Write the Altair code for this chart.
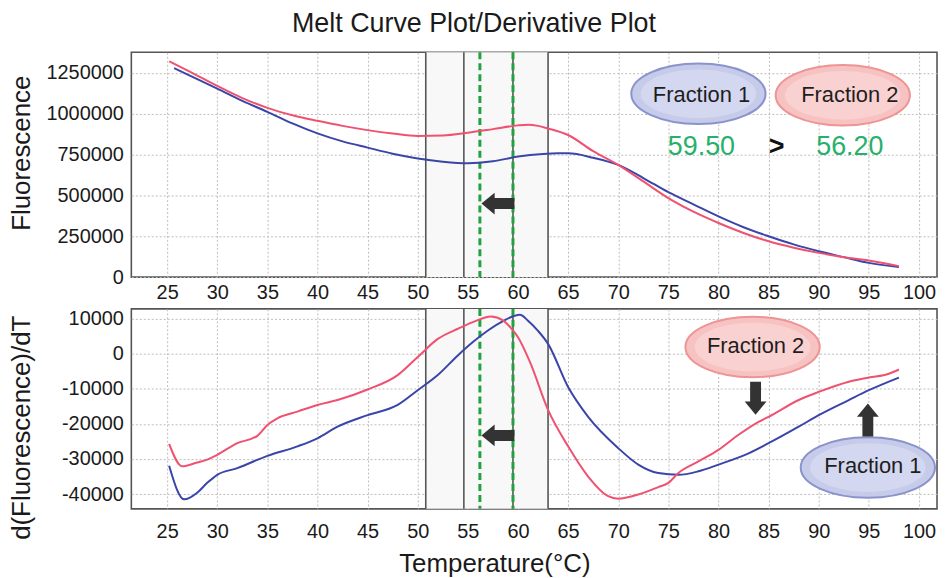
import altair as alt
import pandas as pd

FONT = "Liberation Sans"
BLUE = "#3a45a8"
RED = "#ef5270"
GREEN_TXT = "#27b06a"
GREEN_LINE = "#22a23e"
ARROW = "#333333"

series_names = ["Fraction 1", "Fraction 2"]

# ---- Melt curve (fluorescence) ----
t_f2_top = [25.2, 27, 30, 32.5, 35, 37.5, 40, 42.5, 45, 47.5, 50, 52.5, 55, 57.5, 60, 61, 62, 63,
            65, 67.5, 70, 72.5, 75, 77.5, 80, 82.5, 85, 87.5, 90, 92.5, 95, 98]
fl_f2 = [1320000, 1265000, 1169000, 1095000, 1035000, 990000, 956000, 925000, 899000, 878000,
         863000, 866000, 883000, 905000, 928000, 932000, 925000, 909000, 869000, 770000, 686000,
         585000, 483000, 400000, 331000, 270000, 219000, 180000, 148000, 122000, 102000, 67000]
t_f1_top = [25.7, 27, 30, 32.5, 35, 37.5, 40, 42.5, 45, 47.5, 50, 52.5, 55, 57.5, 60, 62.5, 64,
            65, 67.5, 70, 72.5, 75, 77.5, 80, 82.5, 85, 87.5, 90, 92.5, 95, 98]
fl_f1 = [1278000, 1240000, 1153000, 1078000, 1011000, 940000, 879000, 830000, 792000, 755000,
         726000, 706000, 696000, 708000, 737000, 753000, 757000, 757000, 730000, 686000, 606000,
         519000, 445000, 371000, 305000, 250000, 200000, 158000, 122000, 87000, 61000]

# ---- Derivative ----
t_f2_der = [25.2, 26.5, 28, 29, 30, 32, 34, 35, 36, 38, 40, 42, 45, 48, 50, 52, 54, 55.5, 57.3,
            58.5, 59.5, 60, 61.2, 63, 65, 67, 69, 70, 72, 74, 75, 76, 78, 80, 82, 84, 85, 88, 90,
            93, 95, 97, 98]
d_f2 = [-25700, -32100, -31000, -30200, -28800, -25500, -23400, -20300, -18400, -16500, -14600,
        -13200, -10200, -6100, -950, 4200, 7100, 9000, 10600, 9500, 6600, 4700, -2400, -16000,
        -26400, -35000, -40600, -41300, -40100, -38000, -36800, -34000, -30700, -27400, -23100,
        -19400, -18000, -13200, -10900, -8000, -6800, -5700, -4500]
t_f1_der = [25.2, 26.7, 28, 29, 30, 32, 35, 38, 40, 42, 45, 48, 50, 52, 54, 55.5, 57, 58.5, 60.2,
            61, 62, 63, 65, 67, 70, 72, 74, 76, 78, 80, 83, 85, 88, 90, 93, 95, 98]
d_f1 = [-31900, -41500, -39600, -36800, -34500, -32600, -29100, -26400, -24100, -20800, -17500,
        -14600, -10400, -6100, -500, 3300, 6600, 9300, 11100, 9400, 6500, 2800, -9500, -18000,
        -26900, -31600, -34000, -34500, -33500, -31600, -28400, -25500, -20800, -17500, -13200,
        -10400, -6800]

x_ticks = list(range(25, 101, 5))
top_y_ticks = [0, 250000, 500000, 750000, 1000000, 1250000]
bot_y_ticks = [-40000, -30000, -20000, -10000, 0, 10000]
x_domain = [21.43, 101.8]
top_domain = [0, 1375000]
bot_domain = [-44200, 12750]

gray_lines = [50.8, 54.6, 59.5, 63.0]
green_lines = [56.2, 59.5]
band_edges = [50.8, 63.0]

# annotations
top_ell_x = [78.0, 92.4]
top_ell_y = [1121000, 1112000]
top_lab_x = [78.3, 93.1]
top_lab_y = [1114000, 1114000]
val_x = [78.3, 85.8, 93.1]
val_y = [797600, 797600, 797600]
val_text = ["59.50", ">", "56.20"]
val_col = [GREEN_TXT, "#111111", GREEN_TXT]
val_weight = ["normal", "bold", "normal"]

bot_ell_x = [94.9, 83.4]
bot_ell_y = [-32400, 1900]
bot_lab_x = [95.4, 83.7]
bot_lab_y = [-32000, 2100]

arrow_top_x = [58.0]
arrow_top_y = [450000]
arrow_bot_x = [58.0, 83.7, 94.9]
arrow_bot_y = [-23300, -12700, -18900]
arrow_bot_angle = [0, 270, 90]

ELLIPSE = "M-1,0A1,0.45,0,1,0,1,0A1,0.45,0,1,0,-1,0Z"
ELLIPSE_IN = "M-1,0A1,0.42,0,1,0,1,0A1,0.42,0,1,0,-1,0Z"
ARROW_PATH = "M-1,0L-0.2,-0.66L-0.2,-0.33L1,-0.33L1,0.33L-0.2,0.33L-0.2,0.66Z"

top_df = pd.concat([
    pd.DataFrame({"x": t_f1_top, "y": fl_f1, "s": series_names[0]}),
    pd.DataFrame({"x": t_f2_top, "y": fl_f2, "s": series_names[1]}),
])
bot_df = pd.concat([
    pd.DataFrame({"x": t_f1_der, "y": d_f1, "s": series_names[0]}),
    pd.DataFrame({"x": t_f2_der, "y": d_f2, "s": series_names[1]}),
])

xs = alt.Scale(domain=x_domain, nice=False, zero=False)
color = alt.Color("s:N", scale=alt.Scale(domain=series_names, range=[BLUE, RED]), legend=None)


def panel(df, ydomain, yticks, ytitle, title_y, xtitle, ell_x, ell_y, lab_x, lab_y, ell_order,
          arrows_x, arrows_y, arrows_angle, extra_layers, height, lab_pad, title_pad):
    ys = alt.Scale(domain=ydomain, nice=False, zero=False)
    xaxis = alt.Axis(values=x_ticks, title=xtitle, titleX=365, titlePadding=title_pad,
                     labelPadding=lab_pad, format="d")
    yaxis = alt.Axis(values=yticks, title=ytitle, titleX=-97, titleY=title_y,
                     labelPadding=8, labelExpr="'' + datum.value")
    X = lambda f="x": alt.X(f"{f}:Q", scale=xs, axis=xaxis)
    Y = lambda f="y": alt.Y(f"{f}:Q", scale=ys, axis=yaxis)

    band = alt.Chart(pd.DataFrame({"a": [band_edges[0]], "b": [band_edges[1]]})).mark_rect(
        color="#f8f8f8").encode(x=X("a"), x2="b:Q")
    glines = alt.Chart(pd.DataFrame({"x": gray_lines})).mark_rule(
        color="#555555", strokeWidth=1.6).encode(x=X())
    grn = alt.Chart(pd.DataFrame({"x": green_lines})).mark_rule(
        color=GREEN_LINE, strokeWidth=3, strokeDash=[7, 4]).encode(x=X())
    lines = alt.Chart(df).mark_line(strokeWidth=2, interpolate="monotone").encode(
        x=X(), y=Y(), color=color, detail="s:N")

    edf = pd.DataFrame({"x": ell_x, "y": ell_y, "s": ell_order})
    ell_fill = alt.Scale(domain=series_names, range=["#c6cbea", "#f7c2c2"])
    ell_in = alt.Scale(domain=series_names, range=["#d3d7f0", "#fad1d1"])
    ell_str = alt.Scale(domain=series_names, range=["#8a93cc", "#ee9494"])
    ell = alt.Chart(edf).mark_point(shape=ELLIPSE, size=18225, filled=True, opacity=1,
                                    strokeWidth=2).encode(
        x=X(), y=Y(), fill=alt.Fill("s:N", scale=ell_fill, legend=None),
        stroke=alt.Stroke("s:N", scale=ell_str, legend=None))
    ell2 = alt.Chart(edf).mark_point(shape=ELLIPSE_IN, size=13500, filled=True, opacity=1,
                                     strokeWidth=0).encode(
        x=X(), y=Y(), fill=alt.Fill("s:N", scale=ell_in, legend=None))
    ldf = pd.DataFrame({"x": lab_x, "y": lab_y, "t": ell_order})
    labs = alt.Chart(ldf).mark_text(font=FONT, fontSize=22, color="#1e1e1e").encode(
        x=X(), y=Y(), text="t:N")

    adf = pd.DataFrame({"x": arrows_x, "y": arrows_y, "a": arrows_angle})
    arr = alt.Chart(adf).mark_point(shape=ARROW_PATH, size=1100, filled=True, opacity=1,
                                    color=ARROW).encode(x=X(), y=Y(), angle=alt.Angle(
                                        "a:Q", scale=None))

    layers = [band, glines, grn, lines] + extra_layers(X, Y) + [ell, ell2, labs, arr]
    return alt.layer(*layers).resolve_scale(fill="independent").properties(width=810, height=height)


def top_extra(X, Y):
    vdf = pd.DataFrame({"x": val_x, "y": val_y, "t": val_text, "c": val_col, "w": val_weight})
    normal = alt.Chart(vdf[vdf.w == "normal"]).mark_text(font=FONT, fontSize=27).encode(
        x=X(), y=Y(), text="t:N", color=alt.Color("c:N", scale=None))
    bold = alt.Chart(vdf[vdf.w == "bold"]).mark_text(font=FONT, fontSize=27, fontWeight="bold").encode(
        x=X(), y=Y(), text="t:N", color=alt.Color("c:N", scale=None))
    return [normal, bold]


def bot_extra(X, Y):
    return []


top = panel(top_df, top_domain, top_y_ticks, "Fluorescence", 101, None,
            top_ell_x, top_ell_y, top_lab_x, top_lab_y, series_names,
            arrow_top_x, arrow_top_y, [0], top_extra, 226, 6, 6)
bottom = panel(bot_df, bot_domain, bot_y_ticks, "d(Fluorescence)/dT", 119, "Temperature(°C)",
               bot_ell_x, bot_ell_y, bot_lab_x, bot_lab_y, series_names,
               arrow_bot_x, arrow_bot_y, arrow_bot_angle, bot_extra, 201, 13, 9)

chart = alt.vconcat(top, bottom, spacing=2).properties(
    title=alt.TitleParams("Melt Curve Plot/Derivative Plot", font=FONT, fontSize=27,
                          fontWeight="normal", color="#1a1a1a", anchor="middle", offset=12),
    padding=0,
).configure_view(stroke="#555555", strokeWidth=1.6).configure_axis(
    labelFont=FONT, labelFontSize=20, labelColor="#1a1a1a", titleFont=FONT,
    titleFontSize=26, titleFontWeight="normal", titleColor="#1a1a1a",
    gridColor="#bcbcbc", gridDash=[2, 2], gridWidth=1, ticks=False, domain=False,
)

chart.save("out.html", embed_options={"renderer": "svg", "actions": False})
